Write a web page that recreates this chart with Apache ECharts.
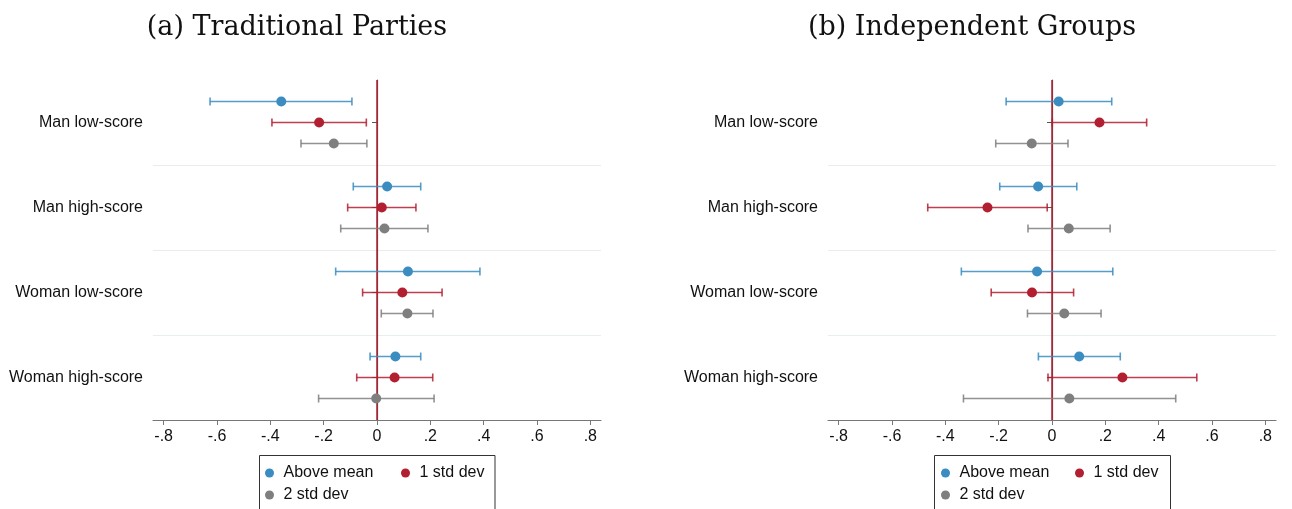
<!DOCTYPE html>
<html><head><meta charset="utf-8">
<script src="https://cdn.jsdelivr.net/npm/echarts@6/dist/echarts.min.js"></script>
<style>html,body{margin:0;padding:0;background:#fff}#c{width:1292px;height:509px}</style>
</head><body><div id="c"></div>
<script>
// ---------- data ----------
const categories = ['Man low-score', 'Man high-score', 'Woman low-score', 'Woman high-score'];
const seriesNames = ['Above mean', '1 std dev', '2 std dev'];
const xTicks = [-0.8, -0.6, -0.4, -0.2, 0, 0.2, 0.4, 0.6, 0.8];
const panelTitles = ['(a) Traditional Parties', '(b) Independent Groups'];

// (a) Traditional Parties
const tradAboveEst  = [-0.359, 0.038, 0.116, 0.069];
const tradAboveLow  = [-0.626, -0.089, -0.155, -0.026];
const tradAboveHigh = [-0.094, 0.164, 0.386, 0.164];
const trad1sdEst    = [-0.217, 0.018, 0.095, 0.066];
const trad1sdLow    = [-0.394, -0.110, -0.054, -0.076];
const trad1sdHigh   = [-0.040, 0.146, 0.244, 0.209];
const trad2sdEst    = [-0.162, 0.028, 0.114, -0.003];
const trad2sdLow    = [-0.285, -0.136, 0.016, -0.219];
const trad2sdHigh   = [-0.038, 0.191, 0.210, 0.214];

// (b) Independent Groups
const indAboveEst   = [0.025, -0.052, -0.056, 0.102];
const indAboveLow   = [-0.172, -0.196, -0.340, -0.051];
const indAboveHigh  = [0.224, 0.093, 0.228, 0.256];
const ind1sdEst     = [0.178, -0.242, -0.075, 0.264];
const ind1sdLow     = [0.001, -0.466, -0.228, -0.015];
const ind1sdHigh    = [0.355, -0.018, 0.081, 0.543];
const ind2sdEst     = [-0.076, 0.063, 0.046, 0.065];
const ind2sdLow     = [-0.211, -0.090, -0.092, -0.332];
const ind2sdHigh    = [0.060, 0.218, 0.184, 0.464];

// ---------- styling / layout ----------
const colors = ['#3a8cc1', '#b11f30', '#7f7f7f'];
const rowOffsets = [-0.247, 0, 0.247];
const refColor = '#b11f30';
const FONT = 'Liberation Sans, Arial, Helvetica, sans-serif';

function rows(low, est, high) {
  return categories.map((c, i) => [low[i], est[i], high[i], i]);
}
const panels = [
  [rows(tradAboveLow, tradAboveEst, tradAboveHigh), rows(trad1sdLow, trad1sdEst, trad1sdHigh), rows(trad2sdLow, trad2sdEst, trad2sdHigh)],
  [rows(indAboveLow, indAboveEst, indAboveHigh), rows(ind1sdLow, ind1sdEst, ind1sdHigh), rows(ind2sdLow, ind2sdEst, ind2sdHigh)]
];

function fmt(v) {
  if (Math.abs(v) < 1e-9) return '0';
  return (v < 0 ? '-' : '') + Math.abs(v).toFixed(1).replace(/^0/, '');
}

function errRender(offsetFrac, color) {
  return function (params, api) {
    const c = api.value(3);
    const pL = api.coord([api.value(0), c]);
    const pE = api.coord([api.value(1), c]);
    const pH = api.coord([api.value(2), c]);
    const band = api.size([0, 1])[1];
    const y = pE[1] + offsetFrac * band;
    const ls = { stroke: color, lineWidth: 1.6, opacity: 0.85 };
    return {
      type: 'group',
      children: [
        { type: 'line', shape: { x1: pL[0], y1: y, x2: pH[0], y2: y }, style: ls },
        { type: 'line', shape: { x1: pL[0], y1: y - 4, x2: pL[0], y2: y + 4 }, style: ls },
        { type: 'line', shape: { x1: pH[0], y1: y - 4, x2: pH[0], y2: y + 4 }, style: ls },
        { type: 'circle', shape: { cx: pE[0], cy: y, r: 5 }, style: { fill: color }, z2: 10 }
      ]
    };
  };
}

function zeroRender(params, api) {
  const p = api.coord([0, 0]);
  const cs = params.coordSys;
  return {
    type: 'line',
    shape: { x1: p[0], y1: cs.y, x2: p[0], y2: cs.y + cs.height },
    style: { stroke: refColor, lineWidth: 1.5 }
  };
}

const gridLefts = [153, 828];
const grids = [], xAxes = [], yAxes = [], series = [], legends = [], graphics = [];

gridLefts.forEach((gl, k) => {
  grids.push({ left: gl, top: 80, width: 448, height: 340 });
  xAxes.push({
    type: 'value', gridIndex: k, min: -0.84, max: 0.84,
    axisLine: { show: true, lineStyle: { color: '#777', width: 1.2 } },
    axisTick: { show: true, length: 5, customValues: xTicks, lineStyle: { color: '#777' } },
    axisLabel: { customValues: xTicks, formatter: fmt, fontSize: 16, color: '#111', fontFamily: FONT, margin: 9 },
    splitLine: { show: false }
  });
  yAxes.push({
    type: 'category', gridIndex: k, data: categories, inverse: true,
    axisLine: { show: true, lineStyle: { color: '#555', width: 1.2 } },
    axisTick: { show: true, alignWithLabel: true, length: 5, lineStyle: { color: '#555' } },
    axisLabel: { fontSize: 16, color: '#111', fontFamily: FONT, margin: 10 },
    splitLine: { show: true, showMinLine: false, showMaxLine: false, lineStyle: { color: '#e8eef0', width: 1.2 } }
  });
  series.push({
    type: 'custom', xAxisIndex: k, yAxisIndex: k, z: 1, silent: true,
    renderItem: zeroRender, data: [[0, 0]], encode: { x: 0, y: 1 }
  });
  panels[k].forEach((d, s) => {
    series.push({
      type: 'custom', name: seriesNames[s], xAxisIndex: k, yAxisIndex: k, z: 2,
      itemStyle: { color: colors[s] },
      renderItem: errRender(rowOffsets[s], colors[s]),
      encode: { x: [0, 1, 2], y: 3 },
      data: d
    });
  });
});

// legends (one box per panel)
const legendBoxes = [{ x: 259.5, w: 235.5, dot1: 265, dot2: 401 }, { x: 934.5, w: 236, dot1: 941, dot2: 1075 }];
legendBoxes.forEach(b => {
  const base = { orient: 'horizontal', padding: 0, icon: 'circle', itemWidth: 18, itemHeight: 9,
    textStyle: { fontSize: 16, color: '#111', fontFamily: FONT, lineHeight: 18 }, selectedMode: false };
  legends.push(Object.assign({}, base, { data: [seriesNames[0]], left: b.dot1, top: 464 }));
  legends.push(Object.assign({}, base, { data: [seriesNames[1]], left: b.dot2, top: 464 }));
  legends.push(Object.assign({}, base, { data: [seriesNames[2]], left: b.dot1, top: 486 }));
  graphics.push({ type: 'rect', shape: { x: b.x, y: 455.5, width: b.w, height: 70 },
    style: { fill: 'none', stroke: '#333', lineWidth: 1 }, silent: true });
});

[297, 972].forEach((cx, k) => {
  graphics.push({ type: 'text', x: cx, y: 28, silent: true,
    style: { text: panelTitles[k], fontFamily: 'DejaVu Serif, Liberation Serif, serif', fontSize: 27,
      fill: '#111', align: 'center', verticalAlign: 'middle' } });
});

const chart = echarts.init(document.getElementById('c'), null, { renderer: 'canvas' });
chart.setOption({
  animation: false,
  backgroundColor: '#fff',
  grid: grids, xAxis: xAxes, yAxis: yAxes, series: series,
  legend: legends, graphic: graphics
});
</script>
</body></html>
